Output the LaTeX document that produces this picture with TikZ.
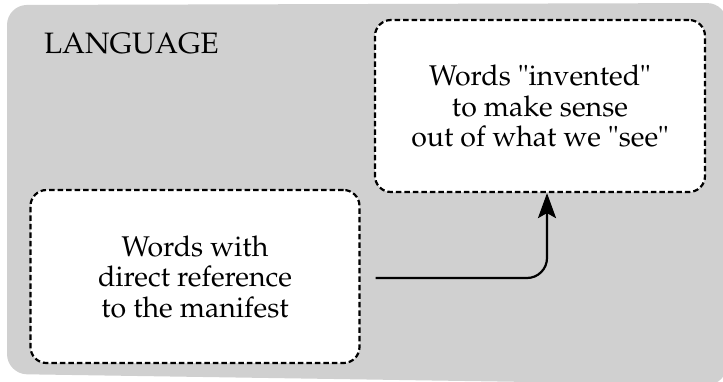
\documentclass[tikz,border=0pt]{standalone}
\usepackage[T1]{fontenc}
\usepackage{mathpazo}
\usetikzlibrary{arrows.meta}
\definecolor{bggrey}{RGB}{208,208,208}
\tikzset{
  outerarea/.style={draw=none, fill=bggrey, rounded corners=20pt},
  wordbox/.style={draw=black, fill=white, line width=2.2pt, dash pattern=on 5.5pt off 3pt, rounded corners=16pt, align=center, inner sep=0pt, font=\fontsize{28.5}{30.5}\selectfont},
  titletext/.style={font=\fontsize{29.5}{31}\selectfont, inner sep=0pt},
  arr/.style={-{Stealth[length=25pt,width=18pt,inset=5pt]}, line width=2.2pt, rounded corners=20pt}
}
\begin{document}
\begin{tikzpicture}[x=1pt,y=-1pt]
\useasboundingbox (0,0) rectangle (723,381);
\fill[outerarea] (7,5) -- (727,3) -- (727,385) -- (7,374) -- cycle;
\node[titletext, anchor=base west] (title) at (44,53) {LANGUAGE};
\node[wordbox, minimum width=330pt, minimum height=172pt] (inv) at (540,106)
  {Words \textquotedbl invented\textquotedbl\\to make sense\\out of what we \textquotedbl see\textquotedbl};
\node[wordbox, minimum width=329pt, minimum height=173pt] (man) at (195,276.5)
  {Words with\\direct reference\\to the manifest};
\draw[arr] ([xshift=15pt,yshift=-1.5pt]man.east) -| ([xshift=7pt]inv.south);
\end{tikzpicture}
\end{document}
